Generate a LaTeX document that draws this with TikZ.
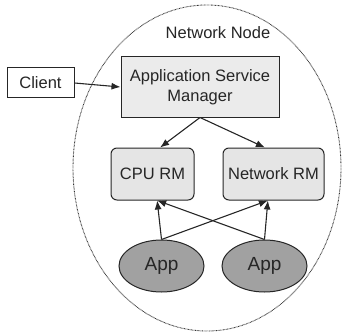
\documentclass[tikz,border=0pt]{standalone}
\usepackage{fontspec}
\setmainfont{Liberation Sans}
\usetikzlibrary{arrows.meta,shapes.geometric}
\begin{document}
\begin{tikzpicture}[x=1pt,y=-1pt,
  every node/.style={font=\fontsize{16.5}{20}\selectfont, text=black!85},
  sqbox/.style={draw=black!85, line width=1pt, fill=black!8, align=center, inner sep=0pt},
  rmbox/.style={draw=black!85, line width=1pt, fill=black!10, rounded corners=6pt, inner sep=0pt},
  appell/.style={draw=black!85, line width=1pt, fill=black!37, shape=ellipse, inner sep=0pt,
    minimum width=85pt, minimum height=52pt, font=\fontsize{19}{22}\selectfont},
  arr/.style={draw=black!85, line width=1.1pt, -{Latex[length=9pt,width=7pt]}}
]
\useasboundingbox (0,0) rectangle (342,334);
\draw[black!80, line width=0.9pt, dash pattern=on 0.7pt off 0.7pt] (207,168) ellipse [x radius=134, y radius=163];
\node (nn) at (218,33) {Network Node};
\node[sqbox, fill=white, minimum width=67pt, minimum height=30pt] (client) at (40.5,83) {Client};
\node[sqbox, minimum width=158pt, minimum height=60pt] (asm) at (200,87) {Application Service\\Manager};
\node[rmbox, minimum width=83pt, minimum height=52pt] (cpu) at (152.5,174) {CPU RM};
\node[rmbox, minimum width=101pt, minimum height=52pt] (nrm) at (273.5,174) {Network RM};
\node[appell] (app1) at (161.5,266) {App};
\node[appell] (app2) at (264.5,266) {App};
\draw[arr] (client.east) -- (asm.west);
\draw[arr] (asm.south) -- (cpu.74);
\draw[arr] (asm.south) -- (nrm.108);
\draw[arr] (app1.north) -- (cpu.-80);
\draw[arr] (app1.north) -- (nrm.-102);
\draw[arr] (app2.north) -- (nrm.-102);
\draw[arr] (app2.north) -- (cpu.-80);
\end{tikzpicture}
\end{document}
